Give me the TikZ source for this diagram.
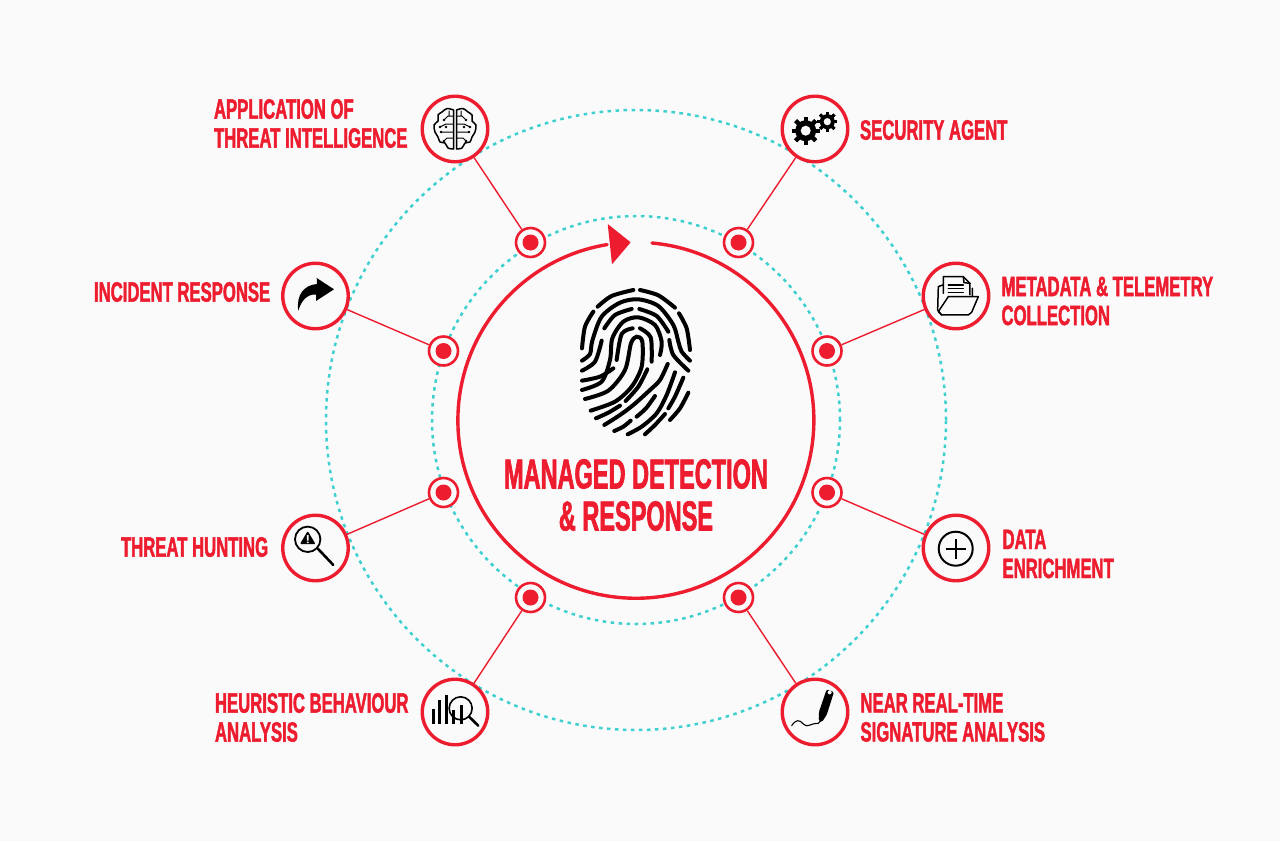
\documentclass[tikz,border=0pt]{standalone}
\usepackage{fontspec}
\newfontfamily\labelfont[FakeStretch=0.596,FakeBold=1.5]{Liberation Sans}
\newfontfamily\titlefont[FakeStretch=0.56,FakeBold=1.5]{Liberation Sans}
\definecolor{mdrred}{HTML}{ED1C2E}
\definecolor{mdrteal}{HTML}{3ECFCF}
\definecolor{mdrback}{HTML}{FAFAFB}
\tikzset{
  bignode/.style={circle,draw=mdrred,line width=3.4pt,fill=mdrback,minimum size=65.5pt,inner sep=0pt},
  dotnode/.style={circle,draw=mdrred,line width=2.6pt,fill=mdrback,minimum size=29pt,inner sep=0pt,
    path picture={\fill[mdrred] (path picture bounding box.center) circle (8pt);}},
  spoke/.style={draw=mdrred,line width=1.4pt},
  dashring/.style={draw=mdrteal,line width=2.5pt,dash pattern=on 3.5pt off 4.5pt},
  mainring/.style={draw=mdrred,line width=3.4pt,line cap=round},
  sidelabel/.style={anchor=west,align=left,text=mdrred,font=\labelfont\bfseries\fontsize{28}{29}\selectfont},
  toplabel/.style={align=center,text=mdrred,font=\titlefont\bfseries\fontsize{42}{42}\selectfont},
  printline/.style={line width=4pt,line cap=round,black},
  iconline/.style={line width=1.5pt,black,line cap=round,line join=round}
}
\begin{document}
\begin{tikzpicture}[x=1pt,y=-1pt]
\useasboundingbox (0,0) rectangle (1280,841);
\fill[mdrback] (0,0) rectangle (1280,841);
\draw[dashring] (636,420) circle (310pt);
\draw[dashring] (636,420) circle (204pt);
% centre ring and its arrowhead
\draw[mainring] (652,243) arc[start angle=84.8,end angle=-260.7,radius=178pt];
\fill[mdrred,rounded corners=0.5pt] (607.7,224) -- (630.7,242.3) -- (612,264.3) -- cycle;
% outer nodes
\node[bignode] (brain) at (455,129) {};
\node[bignode] (gears) at (815,129) {};
\node[bignode] (share) at (315.5,296) {};
\node[bignode] (folder) at (956,296) {};
\node[bignode] (hunt) at (315.5,548) {};
\node[bignode] (plus) at (956,548) {};
\node[bignode] (chart) at (455,712) {};
\node[bignode] (pen) at (815,712) {};
% inner nodes
\node[dotnode] (dotbrain) at (530.5,242.5) {};
\node[dotnode] (dotgears) at (738.5,242.5) {};
\node[dotnode] (dotshare) at (443.5,351) {};
\node[dotnode] (dotfolder) at (827,351) {};
\node[dotnode] (dothunt) at (443.5,492.5) {};
\node[dotnode] (dotplus) at (827,492.5) {};
\node[dotnode] (dotchart) at (530.5,597.5) {};
\node[dotnode] (dotpen) at (738.5,597.5) {};
\foreach \a in {brain,gears,share,folder,hunt,plus,chart,pen}
  \draw[spoke] (\a) -- (dot\a);
% labels
\node[toplabel] (title) at (636,495) {MANAGED DETECTION\\[0pt]\& RESPONSE};
\node[sidelabel] (lbrain) at (210.5,123.5) {APPLICATION OF\\THREAT INTELLIGENCE};
\node[sidelabel] (lgears) at (856.5,130) {SECURITY AGENT};
\node[sidelabel] (lshare) at (90.5,292) {INCIDENT RESPONSE};
\node[sidelabel] (lfolder) at (998,301) {METADATA \& TELEMETRY\\COLLECTION};
\node[sidelabel] (lhunt) at (117.5,547) {THREAT HUNTING};
\node[sidelabel] (lplus) at (999,554) {DATA\\ENRICHMENT};
\node[sidelabel] (lchart) at (211.5,717.5) {HEURISTIC BEHAVIOUR\\ANALYSIS};
\node[sidelabel] (lpen) at (857,717.5) {NEAR REAL-TIME\\SIGNATURE ANALYSIS};
% fingerprint, traced on a 3x grid
\begin{scope}[shift={(560,210)},x=0.3333pt,y=-0.3333pt]
\draw[printline] plot[smooth] coordinates {(113,290) (155,258) (220,240)};
\draw[printline] plot[smooth] coordinates {(240,240) (295,256) (345,293)};
\draw[printline] plot[smooth] coordinates {(100,305) (75,350) (66,415)};
\draw[printline] plot[smooth] coordinates {(357,310) (380,355) (390,420)};
\draw[printline] plot[smooth] coordinates {(66,452) (90,432) (97,392) (125,320) (180,278) (235,268) (295,288) (340,345) (355,395) (365,425) (390,452)};
\draw[printline] plot[smooth] coordinates {(133,355) (165,315) (215,297)};
\draw[printline] plot[smooth] coordinates {(238,297) (290,318) (325,365)};
\draw[printline] plot[smooth] coordinates {(66,482) (105,455) (125,392)};
\draw[printline] plot[smooth] coordinates {(328,390) (340,435) (385,482)};
\draw[printline] plot[smooth] coordinates {(66,540) (125,515) (150,450) (157,385) (190,335) (235,322) (285,345) (305,395) (300,435)};
\draw[printline] plot[smooth] coordinates {(160,475) (120,500) (66,512)};
\draw[printline] plot[smooth] coordinates {(218,355) (185,372) (170,450)};
\draw[printline] plot[smooth] coordinates {(240,355) (272,382) (275,455)};
\draw[printline] plot[smooth] coordinates {(75,567) (145,542) (195,480) (213,400) (230,380) (247,395) (245,470) (215,530) (165,575) (92,602)};
\draw[printline] plot[smooth] coordinates {(262,478) (235,530) (197,573)};
\draw[printline] plot[smooth] coordinates {(323,462) (300,510) (270,540) (220,585) (180,615) (133,645)};
\draw[printline] plot[smooth] coordinates {(180,587) (145,608) (108,625)};
\draw[printline] plot[smooth] coordinates {(285,558) (258,595) (230,620)};
\draw[printline] plot[smooth] coordinates {(212,632) (190,650) (163,663)};
\draw[printline] plot[smooth] coordinates {(370,503) (345,560) (325,595)};
\draw[printline] plot[smooth] coordinates {(345,487) (320,555) (290,610) (245,650) (203,673)};
\draw[printline] plot[smooth] coordinates {(385,548) (360,595) (330,630)};
\draw[printline] plot[smooth] coordinates {(315,612) (285,645) (255,673)};
\end{scope}
% brain icon, one half mirrored
\foreach \s in {1,-1}{
\begin{scope}[shift={(455,129)},xscale=\s]
\draw[iconline] (1.5,-19) plot[smooth] coordinates {(1.5,-19) (8,-20.5) (13,-17) (17,-14) (17,-8) (21,-4) (20,3) (17,8) (15,13) (10,14) (7,19) (1.5,20)} -- cycle;
\draw[iconline,line width=1pt] (2,-13) -- (7,-13) -- (11,-9) (2,-5) -- (9,-5) -- (15,-2) (2,3) -- (14,3) (2,9) -- (8,9) -- (11,12) (6,-18) -- (6,-13);
\foreach \p in {(11,-9),(15,-2),(14,3),(11,12),(9,-2)} \fill \p circle (1.3pt);
\end{scope}}
% gears icon
\foreach \gx/\gy/\gr/\gh in {805.7/130.7/10.5/5,827.3/121.7/7.5/3.6}{
\foreach \t in {0,45,...,315}
  \fill[rotate around={\t:(\gx,\gy)}] (\gx-0.2*\gr,\gy-1.35*\gr) rectangle (\gx+0.2*\gr,\gy+1.35*\gr);
\fill[black,even odd rule] (\gx,\gy) circle (\gr pt) (\gx,\gy) circle (\gh pt);
\fill[mdrback] (\gx,\gy) circle (\gh pt);}
% share arrow icon
\fill[black] (298.3,310.7) .. controls (296,295) and (304,285) .. (317,284) -- (316.7,278) -- (334,289.3) -- (316,301) -- (316,294.5) .. controls (306,294) and (301,302) .. cycle;
% folder icon, traced on a 3x grid
\begin{scope}[shift={(770,85)},x=0.3333pt,y=-0.3333pt]
\draw[iconline] (518,600) -- (505,605) -- (503,675) -- (515,690);
\draw[iconline] (520,625) -- (520,575) -- (580,575) -- (600,595) -- (600,630);
\draw[iconline] (580,575) -- (582,593) -- (600,595) (607,610) -- (607,633);
\draw[iconline] (535,600) -- (580,600) (535,611) -- (580,611) (535,622) -- (580,622);
\draw[iconline] (515,690) -- (505,680) -- (535,635) -- (625,635) -- (605,682) -- (595,690) -- cycle;
\end{scope}
% hunting icon
\draw[black,line width=1.8pt] (307.7,539.3) circle (12.7pt);
\draw[black,line width=2.6pt,line cap=round] (317.7,548.5) -- (333.3,565);
\fill[black,rounded corners=1pt] (307.7,531) -- (315.5,544) -- (300,544) -- cycle;
\fill[mdrback] (306.9,535) rectangle (308.5,540.5) (306.9,541.5) rectangle (308.5,543);
% plus icon
\draw[black,line width=2pt] (955.7,548.7) circle (17pt);
\draw[black,line width=1.8pt] (945.5,548.7) -- (966,548.7) (955.7,538.5) -- (955.7,559);
% chart icon, traced on a 3x grid
\begin{scope}[shift={(270,500)},x=0.3333pt,y=-0.3333pt]
\foreach \bx/\by in {490/628,510/600,530/585,552/630,575/615}
  \fill[black] (\bx-4.5,\by) rectangle (\bx+4.5,671);
\draw[black,line width=1.6pt] (572,625) circle (11.5pt);
\draw[black,line width=2.6pt,line cap=round] (597,650) -- (625,677);
\end{scope}
% pen icon, traced on a 3x grid
\begin{scope}[shift={(770,510)},x=0.3333pt,y=-0.3333pt]
\fill[black,rounded corners=1.5pt] (170,538) -- (192,546) -- (170,615) -- (155,637) -- (146,632) -- (147,605) -- cycle;
\fill[mdrback] (179,547) circle (2pt);
\draw[iconline,line width=1.1pt] (65,647) .. controls (78,628) and (88,628) .. (100,642) .. controls (112,655) and (120,640) .. (145,640) -- (152,632);
\end{scope}
\end{tikzpicture}
\end{document}
